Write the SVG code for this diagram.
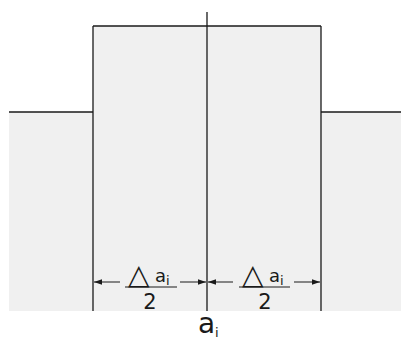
<svg xmlns="http://www.w3.org/2000/svg" width="401" height="340" viewBox="0 0 401 340">
<defs>
<style>
.ln{stroke:#1a1a1a;stroke-width:1.3;fill:none}
.dim{stroke:#1a1a1a;stroke-width:1;fill:none}
.t{font-family:"DejaVu Sans",Verdana,sans-serif;fill:#1a1a1a}
</style>
<marker id="ah" viewBox="0 0 10 10" refX="10" refY="5" markerWidth="8" markerHeight="5.5" markerUnits="userSpaceOnUse" orient="auto-start-reverse" preserveAspectRatio="none">
<path d="M0,0 L10,5 L0,10 Z" fill="#1a1a1a"/>
</marker>
</defs>
<rect width="401" height="340" fill="#fff"/>
<g id="body">
<polygon points="9,112 93,112 93,26 321,26 321,112 401,112 401,311 9,311" fill="#f0f0f0"/>
<line class="ln" x1="9" y1="112" x2="93" y2="112"/>
<line class="ln" x1="93" y1="26" x2="93" y2="311"/>
<line class="ln" x1="93" y1="26" x2="321" y2="26"/>
<line class="ln" x1="321" y1="26" x2="321" y2="311"/>
<line class="ln" x1="321" y1="112" x2="401" y2="112"/>
<line class="ln" x1="207" y1="12" x2="207" y2="311"/>
</g>
<g id="connectors">
<line class="dim" x1="120" y1="282" x2="94" y2="282" marker-end="url(#ah)"/>
<line class="dim" x1="180" y1="282" x2="206" y2="282" marker-end="url(#ah)"/>
<line class="dim" x1="233" y1="282" x2="208" y2="282" marker-end="url(#ah)"/>
<line class="dim" x1="294" y1="282" x2="320" y2="282" marker-end="url(#ah)"/>
</g>
<g id="label-left">
<text class="t" x="128" y="284" font-size="28">△</text>
<text class="t" x="155" y="282" font-size="18">a</text>
<text class="t" x="166" y="285" font-size="13">i</text>
<line class="dim" x1="125" y1="287" x2="177" y2="287"/>
<text class="t" x="150" y="309" font-size="21" text-anchor="middle">2</text>
</g>
<g id="label-right">
<text class="t" x="242" y="284" font-size="28">△</text>
<text class="t" x="269" y="282" font-size="18">a</text>
<text class="t" x="280" y="285" font-size="13">i</text>
<line class="dim" x1="239" y1="287" x2="290" y2="287"/>
<text class="t" x="265" y="309" font-size="21" text-anchor="middle">2</text>
</g>
<g id="label-bottom">
<text class="t" x="198" y="333" font-size="28">a</text>
<text class="t" x="215" y="337" font-size="13">i</text>
</g>
</svg>
